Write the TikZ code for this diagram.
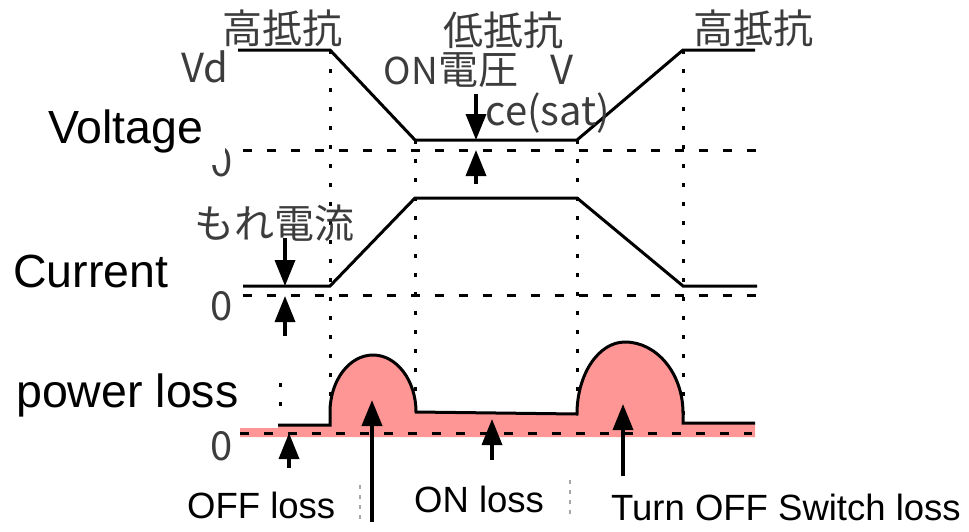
\documentclass[tikz,border=0pt]{standalone}
\usepackage{fontspec}
\setmainfont{Liberation Sans}
\newfontfamily\jp{Noto Sans CJK JP}
\usetikzlibrary{arrows.meta}
\definecolor{losspink}{RGB}{255,150,150}
\definecolor{note}{RGB}{60,60,60}

\begin{document}
\begin{tikzpicture}[x=1pt,y=-1pt,
  wave/.style={line width=3pt, line join=miter},
  zeroline/.style={line width=3pt, dash pattern=on 9pt off 15pt},
  guide/.style={line width=3pt, dash pattern=on 4pt off 15pt},
  faint/.style={line width=2pt, gray!70, dash pattern=on 4pt off 6pt},
  marker/.style={line width=3.5pt, -{Triangle[length=26pt,width=20pt]}},
  axislabel/.style={font=\fontsize{46.5}{50}\selectfont, anchor=base west, inner sep=0pt},
  losslabel/.style={font=\fontsize{36.5}{40}\selectfont, anchor=base west, inner sep=0pt},
  jplabel/.style={font=\jp\fontsize{40}{42}\selectfont, text=note, inner sep=0pt},
  latlabel/.style={font=\jp\fontsize{40}{42}\selectfont, text=note, inner sep=0pt},
]
\useasboundingbox (0,0) rectangle (969,531);

% ---- vertical timing guides
\draw[guide] (330,50) -- (330,425);
\draw[guide] (415,140) -- (415,412);
\draw[guide] (577,140) -- (577,414);
\draw[guide] (683,50) -- (683,423);

% ---- zero reference lines
\draw[zeroline] (243,150) -- (768,150);
\draw[zeroline] (243,295) -- (768,295);

% ---- collector-emitter voltage
\draw[wave] (238,50) -- (330,50) -- (415,140) -- (577,140) -- (683,50) -- (755,50);

% ---- collector current
\draw[wave] (243,286) -- (330,286) -- (415,198) -- (577,198) -- (683,286) -- (757,286);

% ---- power loss area
\fill[losspink] (240,437) -- (240,425) -- (330,425) -- (330,412)
  .. controls (330,380.5) and (349.3,355) .. (373,355)
  .. controls (396.7,355) and (416,380.5) .. (416,412)
  -- (577,414)
  .. controls (577,374.2) and (598.5,342) .. (625,342)
  .. controls (657,342) and (683,373.8) .. (683,413)
  -- (683,423) -- (755,423) -- (755,437) -- cycle;
\draw[zeroline] (240,433) -- (752,433);
\draw[wave] (240,425) -- (330,425) -- (330,412)
  .. controls (330,380.5) and (349.3,355) .. (373,355)
  .. controls (396.7,355) and (416,380.5) .. (416,412)
  -- (577,414)
  .. controls (577,374.2) and (598.5,342) .. (625,342)
  .. controls (657,342) and (683,373.8) .. (683,413)
  -- (683,423) -- (755,423);

% ---- state labels above the voltage trace
\node[jplabel] (hi1) at (282,28) {高抵抗};
\node[jplabel] (lo)  at (503,30) {低抵抗};
\node[jplabel] (hi2) at (753,28) {高抵抗};
\node[latlabel] (vd) at (205,67) {Vd};
\node[jplabel] (onv) at (451,70) {{\fontsize{37}{40}\selectfont ON}電圧};
\node[latlabel] (vsym) at (562,70) {V};
\node[latlabel] (vsub) at (548,113) {ce(sat)};
\node[jplabel] (leak) at (274,223) {もれ電流};

% ---- zero marks
\node[latlabel] (z1) at (222,162) {0};
\node[latlabel] (z2) at (222,306) {0};
\node[latlabel] (z3) at (222,446) {0};

% ---- saturation voltage and leakage current markers
\draw[marker] (476,94) -- (476,140);
\draw[marker] (476,184) -- (476,150);
\draw[marker] (285,238) -- (285,286);
\draw[marker] (285,336) -- (285,296);

% ---- trace names (on white patches)
\fill[white] (0,95) rectangle (225,165);
\node[axislabel] (vlab) at (48,143) {Voltage};
\node[axislabel] (clab) at (13,287) {Current};
\fill[white] (0,365) rectangle (278,428);
\draw[guide] (280,383) -- (280,420);
\node[axislabel] (plab) at (16,407) {power loss};

% ---- loss markers
\draw[marker] (289,468) -- (289,433);
\draw[marker] (492,460) -- (492,419);
\draw[marker, line width=4pt] (372,522) -- (372,400);
\draw[marker] (623,476) -- (623,404);

\draw[faint] (360,485) -- (360,520);
\draw[faint] (570,480) -- (570,518);

\node[losslabel] (off)  at (187,518) {OFF loss};
\node[losslabel] (on)   at (414,512) {ON loss};
\node[losslabel] (turn) at (611,520) {Turn OFF Switch loss};
\end{tikzpicture}
\end{document}
